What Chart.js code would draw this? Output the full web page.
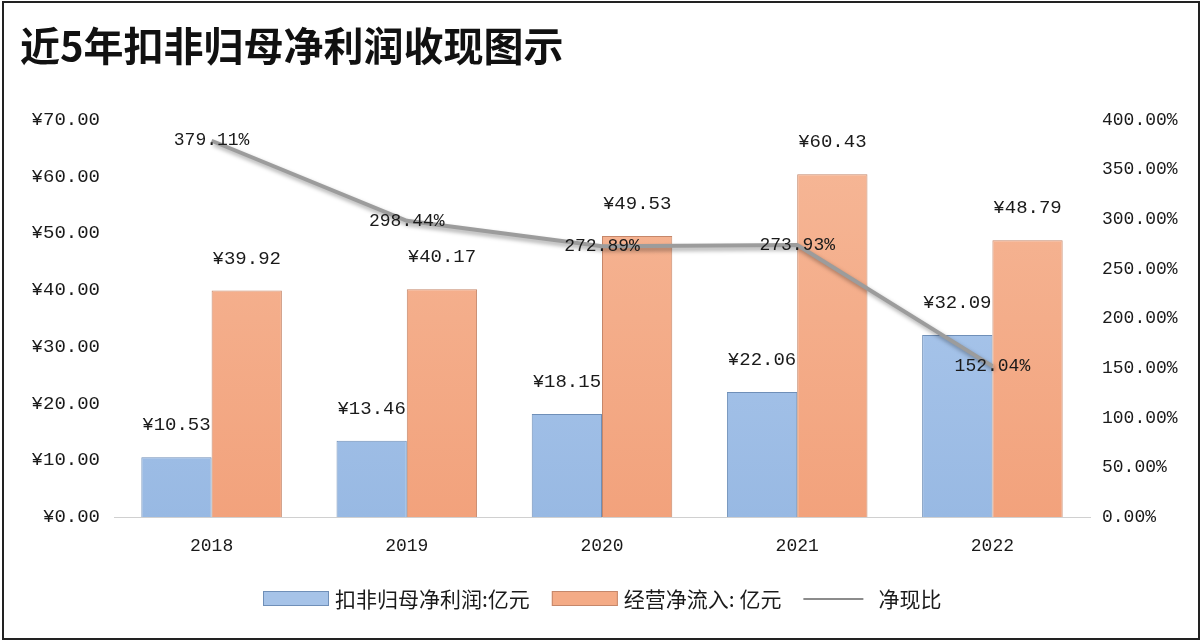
<!DOCTYPE html>
<html>
<head>
<meta charset="utf-8">
<script src="https://cdn.jsdelivr.net/npm/chart.js@4.4.1/dist/chart.umd.min.js"></script>
<style>
  html, body { margin: 0; padding: 0; background: #fff; }
  #wrap { width: 1202px; height: 642px; position: relative; }
</style>
</head>
<body>
<div id="wrap"><canvas id="cashChart" width="1202" height="642"></canvas></div>
<script>
// 数据
var years = ['2018', '2019', '2020', '2021', '2022'];
var netProfit = [10.53, 13.46, 18.15, 22.06, 32.09];   // 扣非归母净利润:亿元
var cashFlow = [39.92, 40.17, 49.53, 60.43, 48.79];    // 经营净流入:亿元
var cashRatio = [379.11, 298.44, 272.89, 273.93, 152.04]; // 净现比 %
var seriesNames = ['扣非归母净利润:亿元', '经营净流入: 亿元', '净现比'];
var chartTitle = '近5年扣非归母净利润收现图示';

var monoFont = '"Liberation Mono", "DejaVu Sans Mono", monospace';

function barGradient(context, top, bottom) {
    var area = context.chart.chartArea;
    if (!area) return bottom;
    var g = context.chart.ctx.createLinearGradient(0, area.top, 0, area.bottom);
    g.addColorStop(0, top);
    g.addColorStop(1, bottom);
    return g;
}

// 边框和标题
var framePlugin = {
    id: 'frame',
    beforeDraw: function (chart) {
        var c = chart.ctx;
        c.save();
        c.fillStyle = '#ffffff';
        c.fillRect(0, 0, chart.width, chart.height);
        c.strokeStyle = '#222';
        c.lineWidth = 2;
        c.strokeRect(3, 2, chart.width - 6, chart.height - 5);
        c.fillStyle = '#111';
        c.font = 'bold 40px "Noto Sans CJK SC", sans-serif';
        c.textAlign = 'left';
        c.textBaseline = 'middle';
        c.fillText(chartTitle, 20, 46);
        c.restore();
    }
};

// 折线阴影
var shadowPlugin = {
    id: 'lineShadow',
    beforeDatasetDraw: function (chart, args) {
        if (args.index === 2) {
            var c = chart.ctx;
            c.save();
            c.shadowColor = 'rgba(0,0,0,0.35)';
            c.shadowBlur = 4;
            c.shadowOffsetX = 2;
            c.shadowOffsetY = 3;
        }
    },
    afterDatasetDraw: function (chart, args) {
        if (args.index === 2) chart.ctx.restore();
    }
};

// 数据标签
var labelPlugin = {
    id: 'valueLabels',
    afterDatasetsDraw: function (chart) {
        var c = chart.ctx;
        c.save();
        c.fillStyle = '#1a1a1a';
        c.textAlign = 'center';
        c.textBaseline = 'middle';
        c.font = '19px ' + monoFont;
        [0, 1].forEach(function (di) {
            var meta = chart.getDatasetMeta(di);
            var vals = chart.data.datasets[di].data;
            meta.data.forEach(function (bar, i) {
                c.fillText('¥' + vals[i].toFixed(2), bar.x, bar.y - 32);
            });
        });
        c.font = '18px ' + monoFont;
        var lm = chart.getDatasetMeta(2);
        lm.data.forEach(function (pt, i) {
            c.fillText(cashRatio[i].toFixed(2) + '%', pt.x, pt.y);
        });
        c.restore();
    }
};

// 图例
var legendPlugin = {
    id: 'bottomLegend',
    afterDraw: function (chart) {
        var c = chart.ctx;
        var y = 599;
        c.save();
        c.font = '21px "Noto Sans CJK SC", sans-serif';
        c.textBaseline = 'middle';
        c.textAlign = 'left';
        var x = 263;
        var fills = ['#a6c3e8', '#f4ab86'];
        var strokes = ['#6f8fb8', '#c5876a'];
        for (var i = 0; i < 2; i++) {
            c.fillStyle = fills[i];
            c.fillRect(x, y - 8, 66, 15);
            c.strokeStyle = strokes[i];
            c.lineWidth = 1;
            c.strokeRect(x + 0.5, y - 7.5, 65, 14);
            c.fillStyle = '#1a1a1a';
            c.fillText(seriesNames[i], x + 72, y);
            x += 72 + c.measureText(seriesNames[i]).width + 22;
        }
        c.strokeStyle = '#8c8c8c';
        c.lineWidth = 2;
        c.beginPath();
        c.moveTo(x, y);
        c.lineTo(x + 60, y);
        c.stroke();
        c.fillStyle = '#1a1a1a';
        c.fillText(seriesNames[2], x + 75, y);
        c.restore();
    }
};

var ctx = document.getElementById('cashChart').getContext('2d');

var chart = new Chart(ctx, {
    data: {
        labels: years,
        datasets: [{
            type: 'bar',
            label: seriesNames[0],
            data: netProfit,
            yAxisID: 'y',
            backgroundColor: function (context) { return barGradient(context, '#b3cdef', '#98b9e3'); },
            borderColor: '#6f8fb8',
            borderWidth: 1,
            barPercentage: 1.0,
            categoryPercentage: 0.72,
            order: 2
        }, {
            type: 'bar',
            label: seriesNames[1],
            data: cashFlow,
            yAxisID: 'y',
            backgroundColor: function (context) { return barGradient(context, '#f6b898', '#f2a27c'); },
            borderColor: '#c5876a',
            borderWidth: 1,
            barPercentage: 1.0,
            categoryPercentage: 0.72,
            order: 2
        }, {
            type: 'line',
            label: seriesNames[2],
            data: cashRatio,
            yAxisID: 'y1',
            borderColor: '#9c9c9c',
            borderWidth: 4,
            pointRadius: 0,
            tension: 0,
            fill: false,
            order: 1
        }]
    },
    options: {
        responsive: false,
        animation: false,
        layout: { padding: { top: 120, left: 0, right: 0, bottom: 0 } },
        plugins: {
            legend: { display: false },
            tooltip: { enabled: false }
        },
        scales: {
            x: {
                grid: { display: false },
                border: { display: true, color: '#d0d0d0', width: 1 },
                ticks: { color: '#1a1a1a', padding: 10, font: { family: monoFont, size: 18 } },
                afterFit: function (scale) { scale.height = 125; }
            },
            y: {
                position: 'left',
                min: 0,
                max: 70,
                grid: { display: false },
                border: { display: false },
                ticks: {
                    stepSize: 10,
                    padding: 6,
                    color: '#1a1a1a',
                    font: { family: monoFont, size: 19 },
                    callback: function (v) { return '¥' + v.toFixed(2); }
                },
                afterFit: function (scale) { scale.width = 114; }
            },
            y1: {
                position: 'right',
                min: 0,
                max: 400,
                grid: { display: false },
                border: { display: false },
                ticks: {
                    stepSize: 50,
                    padding: 4,
                    color: '#1a1a1a',
                    font: { family: monoFont, size: 18 },
                    callback: function (v) { return v.toFixed(2) + '%'; }
                },
                afterFit: function (scale) { scale.width = 112; }
            }
        }
    },
    plugins: [framePlugin, shadowPlugin, labelPlugin, legendPlugin]
});
</script>
</body>
</html>
